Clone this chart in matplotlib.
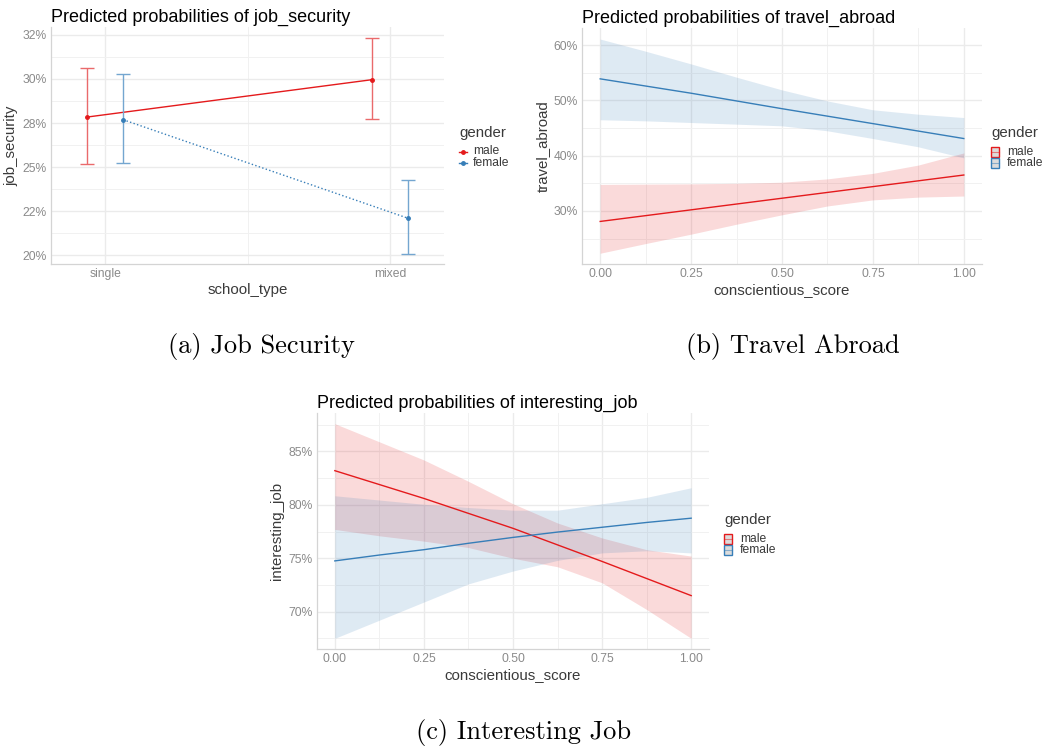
import numpy as np
import matplotlib.pyplot as plt
from matplotlib.patches import Rectangle
from matplotlib.lines import Line2D

# predicted probabilities (in %)
school_type = ['single', 'mixed']
js_male = [27.84, 29.96]
js_male_lo = [25.19, 27.73]
js_male_hi = [30.64, 32.30]
js_female = [27.69, 22.10]
js_female_lo = [25.23, 20.09]
js_female_hi = [30.30, 24.26]
js_ticks = [20, 22.5, 25, 27.5, 30, 32.5]
js_ticklabels = ['20%', '22%', '25%', '28%', '30%', '32%']

score = [0, 0.125, 0.25, 0.375, 0.5, 0.625, 0.75, 0.875, 1.0]

ta_male = [28.1, 29.15, 30.2, 31.25, 32.3, 33.35, 34.4, 35.45, 36.5]
ta_male_lo = [22.35, 24.1, 25.8, 27.6, 29.3, 30.9, 32.0, 32.5, 32.7]
ta_male_hi = [34.8, 34.85, 34.9, 35.0, 35.2, 35.8, 36.8, 38.3, 40.5]
ta_female = [53.9, 52.6, 51.3, 49.9, 48.5, 47.15, 45.8, 44.45, 43.1]
ta_female_lo = [46.5, 46.3, 46.0, 45.7, 45.4, 44.5, 43.1, 41.6, 39.6]
ta_female_hi = [61.1, 58.9, 56.6, 54.2, 51.9, 49.9, 48.3, 47.5, 46.9]

ij_male = [83.2, 81.9, 80.6, 79.2, 77.8, 76.25, 74.7, 73.1, 71.5]
ij_male_lo = [77.7, 77.1, 76.6, 76.0, 75.0, 74.2, 72.7, 70.2, 67.5]
ij_male_hi = [87.6, 85.9, 84.2, 82.2, 80.1, 78.3, 76.9, 75.8, 75.2]
ij_female = [74.75, 75.3, 75.8, 76.4, 76.95, 77.45, 77.9, 78.35, 78.75]
ij_female_lo = [67.5, 69.2, 70.9, 72.6, 73.8, 74.8, 75.5, 75.7, 75.5]
ij_female_hi = [80.85, 80.45, 80.05, 79.75, 79.5, 79.5, 80.1, 80.7, 81.6]

score_ticks = [0, 0.25, 0.5, 0.75, 1.0]
score_ticklabels = ['0.00', '0.25', '0.50', '0.75', '1.00']

RED = '#E41A1C'
BLUE = '#377EB8'
TICK_C = '#8a8a8a'
TEXT_C = '#3a3a3a'

W, H = 1048, 749
fig = plt.figure(figsize=(W / 100, H / 100), dpi=100)
plt.rcParams['font.family'] = ['Liberation Sans', 'DejaVu Sans']


def box(l, t, r, b):
    return [l / W, 1 - b / H, (r - l) / W, (b - t) / H]


def style(ax):
    ax.set_facecolor('white')
    ax.grid(True, which='major', color='#ebebeb', lw=1.0)
    ax.grid(True, which='minor', color='#f1f1f1', lw=0.7)
    ax.set_axisbelow(True)
    for s in ['top', 'right']:
        ax.spines[s].set_visible(False)
    for s in ['left', 'bottom']:
        ax.spines[s].set_color('#d4d4d4')
        ax.spines[s].set_linewidth(0.9)
    ax.tick_params(which='both', length=0, labelsize=8.7, labelcolor=TICK_C, pad=3)


def legend_text(x, y, lbls, dy):
    fig.text(x / W, 1 - y / H, 'gender', fontsize=10.8, color=TEXT_C, va='center')


# (a) job security -----------------------------------------------------------
ax1 = fig.add_axes(box(51, 27, 444, 264))
style(ax1)
xpos = np.arange(len(school_type))
d = 0.063
ax1.plot(xpos - d, js_male, color=RED, lw=1.0)
ax1.plot(xpos + d, js_female, color=BLUE, lw=1.0, ls=':')
ax1.errorbar(xpos - d, js_male,
             yerr=[np.subtract(js_male, js_male_lo), np.subtract(js_male_hi, js_male)],
             fmt='o', ms=2.5, color=RED, ecolor='#ea6a6b', elinewidth=1.0, capsize=5, capthick=1.0)
ax1.errorbar(xpos + d, js_female,
             yerr=[np.subtract(js_female, js_female_lo), np.subtract(js_female_hi, js_female)],
             fmt='o', ms=2.5, color=BLUE, ecolor='#74a6d0', elinewidth=1.0, capsize=5, capthick=1.0)
ax1.set_xlim(-0.19, 1.19)
ax1.set_ylim(19.5, 32.95)
ax1.set_xticks(xpos)
ax1.set_xticklabels(school_type)
ax1.set_xticks([0.5], minor=True)
ax1.set_yticks(js_ticks)
ax1.set_yticklabels(js_ticklabels)
ax1.set_yticks([21.25, 23.75, 26.25, 28.75, 31.25], minor=True)
ax1.set_xlabel('school_type', fontsize=10.8, color=TEXT_C, labelpad=2)
ax1.set_ylabel('job_security', fontsize=10.8, color=TEXT_C, labelpad=3)
ax1.set_title('Predicted probabilities of job_security', loc='left', fontsize=13, pad=4)

fig.text(459 / W, 1 - 133 / H, 'gender', fontsize=10.8, color=TEXT_C, va='center')
for yy, c, lab in [(151.5, RED, 'male'), (162.5, BLUE, 'female')]:
    fig.add_artist(Line2D([459 / W, 467 / W], [1 - yy / H] * 2, color=c, lw=1.0))
    fig.add_artist(Line2D([463 / W], [1 - yy / H], color=c, marker='o', ms=2.5))
    fig.text(473 / W, 1 - yy / H, lab, fontsize=8.7, color=TEXT_C, va='center')


# bands + lines for the continuous panels
def ribbon_panel(ax, m, mlo, mhi, f, flo, fhi):
    style(ax)
    ax.fill_between(score, mlo, mhi, color=RED, alpha=0.16, lw=0)
    ax.fill_between(score, flo, fhi, color=BLUE, alpha=0.16, lw=0)
    ax.plot(score, m, color=RED, lw=1.0)
    ax.plot(score, f, color=BLUE, lw=1.0)
    ax.set_xlim(-0.05, 1.05)
    ax.set_xticks(score_ticks)
    ax.set_xticklabels(score_ticklabels)
    ax.set_xticks([0.125, 0.375, 0.625, 0.875], minor=True)
    ax.set_xlabel('conscientious_score', fontsize=10.8, color=TEXT_C, labelpad=2)


def fill_legend(x, y):
    fig.text(x / W, 1 - y / H, 'gender', fontsize=10.8, color=TEXT_C, va='center')
    for i, (c, lab) in enumerate([(RED, 'male'), (BLUE, 'female')]):
        top = y + 13.5 + i * 11
        fig.add_artist(Rectangle((x / W, 1 - (top + 10.5) / H), 8 / W, 10.5 / H,
                                 transform=fig.transFigure, facecolor='#dcdcdc',
                                 edgecolor=c, lw=1.0))
        fig.add_artist(Line2D([x / W, (x + 8) / W], [1 - (top + 5.25) / H] * 2,
                              color=c, lw=0.8, alpha=0.5))
        fig.text((x + 16) / W, 1 - (top + 5.5) / H, lab, fontsize=8.7, color=TEXT_C, va='center')


# (b) travel abroad ----------------------------------------------------------
ax2 = fig.add_axes(box(582, 28, 982, 264))
ribbon_panel(ax2, ta_male, ta_male_lo, ta_male_hi, ta_female, ta_female_lo, ta_female_hi)
ax2.set_ylim(20.4, 63.1)
ax2.set_yticks([30, 40, 50, 60])
ax2.set_yticklabels(['30%', '40%', '50%', '60%'])
ax2.set_yticks([25, 35, 45, 55], minor=True)
ax2.set_ylabel('travel_abroad', fontsize=10.8, color=TEXT_C, labelpad=3)
ax2.set_title('Predicted probabilities of travel_abroad', loc='left', fontsize=13, pad=4)
fill_legend(991, 133)

# (c) interesting job --------------------------------------------------------
ax3 = fig.add_axes(box(317, 413, 709, 649))
ribbon_panel(ax3, ij_male, ij_male_lo, ij_male_hi, ij_female, ij_female_lo, ij_female_hi)
ax3.set_ylim(66.5, 88.6)
ax3.set_yticks([70, 75, 80, 85])
ax3.set_yticklabels(['70%', '75%', '80%', '85%'])
ax3.set_yticks([67.5, 72.5, 77.5, 82.5, 87.5], minor=True)
ax3.set_ylabel('interesting_job', fontsize=10.8, color=TEXT_C, labelpad=3)
ax3.set_title('Predicted probabilities of interesting_job', loc='left', fontsize=13, pad=4)
fill_legend(724, 520)

# sub-captions
for x, y, s in [(261, 347, '(a) Job Security'), (793, 347, '(b) Travel Abroad'),
                (523, 733, '(c) Interesting Job')]:
    fig.text(x / W, 1 - y / H, s, fontsize=19, family='cmr10', ha='center', va='center')

fig.savefig('out.png', dpi=100)
